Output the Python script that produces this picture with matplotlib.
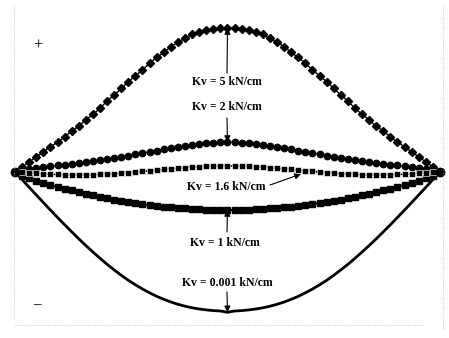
import matplotlib
matplotlib.use("Agg")
import matplotlib.pyplot as plt
from matplotlib.lines import Line2D
import numpy as np

# stations along the span (fraction of span length)
stations = [i / 60 for i in range(61)]

# vertical deflection of the beam (mm, + upward) for each spring stiffness
defl_kv5 = [
    0.00, 0.50, 1.01, 1.51, 2.02, 2.52, 2.98, 3.50, 4.09, 4.58,
    5.21, 5.76, 6.36, 7.10, 7.70, 8.35, 9.03, 9.62, 10.22, 10.87,
    11.45, 11.95, 12.53, 12.96, 13.39, 13.75, 14.00, 14.18, 14.30, 14.37,
    14.40, 14.37, 14.30, 14.18, 14.00, 13.75, 13.39, 12.96, 12.53, 11.95,
    11.45, 10.87, 10.22, 9.62, 9.03, 8.35, 7.70, 7.10, 6.36, 5.76,
    5.21, 4.58, 4.09, 3.50, 2.98, 2.52, 2.02, 1.51, 1.01, 0.50, 0.00,
]
defl_kv2 = [
    0.00, 0.15, 0.30, 0.40, 0.50, 0.58, 0.65, 0.72, 0.80, 0.88,
    0.96, 1.05, 1.15, 1.26, 1.38, 1.50, 1.63, 1.76, 1.89, 2.02,
    2.14, 2.26, 2.37, 2.48, 2.58, 2.67, 2.76, 2.85, 2.92, 2.98,
    3.00, 2.98, 2.92, 2.85, 2.76, 2.67, 2.58, 2.48, 2.37, 2.26,
    2.14, 2.02, 1.89, 1.76, 1.63, 1.50, 1.38, 1.26, 1.15, 1.05,
    0.96, 0.88, 0.80, 0.72, 0.65, 0.58, 0.50, 0.40, 0.30, 0.15, 0.00,
]
defl_kv16 = [
    0.00, -0.05, -0.10, -0.14, -0.19, -0.22, -0.25, -0.27, -0.29, -0.29,
    -0.29, -0.27, -0.25, -0.22, -0.18, -0.13, -0.07, -0.01, 0.05, 0.12,
    0.18, 0.25, 0.31, 0.37, 0.43, 0.48, 0.52, 0.55, 0.58, 0.60,
    0.60, 0.60, 0.58, 0.55, 0.52, 0.48, 0.43, 0.37, 0.31, 0.25,
    0.18, 0.12, 0.05, -0.01, -0.07, -0.13, -0.18, -0.22, -0.25, -0.27,
    -0.29, -0.29, -0.29, -0.27, -0.25, -0.22, -0.19, -0.14, -0.10, -0.05, 0.00,
]
defl_kv1 = [
    0.00, -0.36, -0.62, -0.86, -1.08, -1.29, -1.49, -1.67, -1.85, -2.02,
    -2.18, -2.34, -2.48, -2.62, -2.76, -2.88, -3.00, -3.11, -3.21, -3.30,
    -3.39, -3.47, -3.53, -3.60, -3.65, -3.70, -3.73, -3.76, -3.78, -3.80,
    -3.80, -3.80, -3.78, -3.76, -3.73, -3.70, -3.65, -3.60, -3.53, -3.47,
    -3.39, -3.30, -3.21, -3.11, -3.00, -2.88, -2.76, -2.62, -2.48, -2.34,
    -2.18, -2.02, -1.85, -1.67, -1.49, -1.29, -1.08, -0.86, -0.62, -0.36, 0.00,
]
defl_kv0001 = [
    0.00, -0.76, -1.53, -2.29, -3.05, -3.80, -4.54, -5.27, -5.98, -6.68,
    -7.35, -8.00, -8.63, -9.23, -9.79, -10.33, -10.83, -11.28, -11.70, -12.08,
    -12.43, -12.73, -13.00, -13.23, -13.42, -13.58, -13.70, -13.79, -13.86, -13.90,
    -14.03, -13.90, -13.86, -13.79, -13.70, -13.58, -13.42, -13.23, -13.00, -12.73,
    -12.43, -12.08, -11.70, -11.28, -10.83, -10.33, -9.79, -9.23, -8.63, -8.00,
    -7.35, -6.68, -5.98, -5.27, -4.54, -3.80, -3.05, -2.29, -1.53, -0.76, 0.00,
]

labels = ["Kv = 5 kN/cm", "Kv = 2 kN/cm", "Kv = 1.6 kN/cm",
          "Kv = 1 kN/cm", "Kv = 0.001 kN/cm"]

W, H = 449, 338
fig = plt.figure(figsize=(W / 100, H / 100), dpi=100)
ax = fig.add_axes([0, 0, 1, 1])
ax.set_xlim(-15 / 425, (W - 15) / 425)
ax.set_ylim((172 - H) / 10, 172 / 10)
ax.axis("off")

x = np.array(stations)
ax.plot(x, defl_kv0001, color="black", lw=2.0, zorder=2)
ax.plot(x, defl_kv1, color="black", lw=1.5, marker="s", ms=4.6, zorder=3)
ax.plot(x, defl_kv16, color="black", lw=1.2, marker="s", ms=4.4,
        mfc="black", mec="white", mew=0.45, zorder=4)
ax.plot(x, defl_kv2, color="black", lw=1.0, marker="o", ms=4.6, zorder=3)
ax.plot(x, defl_kv5, color="black", lw=1.0, marker="D", ms=3.6, zorder=3)
# supports: markers pile up at both ends
ax.plot([x[0], x[-1]], [defl_kv1[0], defl_kv1[-1]], "o", color="black",
        ms=6, zorder=5)


def px(u, v):
    # figure pixel position -> data coordinates
    return (u - 15) / 425, (172 - v) / 10


font = dict(family="Liberation Serif", fontsize=8.5, fontweight="bold",
            ha="center", va="center")
arrow = dict(arrowstyle="-|>", color="black", lw=0.8, mutation_scale=9,
             shrinkA=0, shrinkB=0)

mid = 0.5
ax.annotate("", xy=(mid, max(defl_kv5)), xytext=px(227, 73), arrowprops=arrow)
ax.text(*px(227, 82), labels[0], **font)
ax.annotate("", xy=(mid, max(defl_kv2)), xytext=px(227, 118), arrowprops=arrow)
ax.text(*px(227, 107), labels[1], **font)
ax.annotate("", xy=px(301, 174), xytext=px(270, 185), arrowprops=arrow)
ax.text(*px(226, 187), labels[2], **font)
ax.annotate("", xy=(mid, min(defl_kv1)), xytext=px(227, 232), arrowprops=arrow)
ax.text(*px(225, 243), labels[3], **font)
ax.annotate("", xy=(mid, min(defl_kv0001)), xytext=px(227, 292), arrowprops=arrow)
ax.text(*px(227, 283), labels[4], **font)

ax.text(*px(38, 46), "+", family="Liberation Serif", fontsize=12,
        ha="center", va="center")
ax.text(*px(37, 305), "\u2013", family="Liberation Serif", fontsize=11,
        fontweight="bold", ha="center", va="center")

# faint dotted frame
grey = "#b0b0b0"
def frame_line(xs, ys):
    fig.add_artist(Line2D([u / W for u in xs], [1 - v / H for v in ys],
                          color=grey, lw=0.6, ls=(0, (1, 2))))

frame_line([14, 14], [5, 318])
frame_line([443, 443], [5, 330])
frame_line([15, 425], [325, 325])

fig.savefig("out.png", dpi=100, facecolor="white")
